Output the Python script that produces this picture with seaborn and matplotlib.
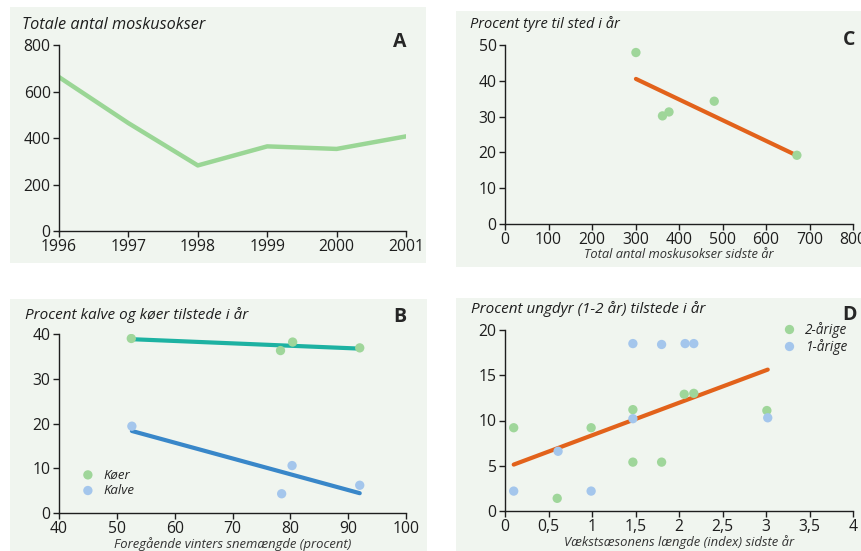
import pandas as pd
import matplotlib.pyplot as plt
import seaborn as sns
from matplotlib.patches import Rectangle

# Data
aar = [1996, 1997, 1998, 1999, 2000, 2001]
total_antal = [662, 464, 282, 364, 353, 407]

moskus_sidste_aar = [301, 362, 377, 481, 671]
pct_tyre = [47.9, 30.2, 31.3, 34.3, 19.2]

sne_koer = [52.5, 78.3, 80.4, 92.0]
pct_koer = [39.0, 36.3, 38.2, 36.9]
sne_kalve = [52.6, 78.5, 80.3, 92.0]
pct_kalve = [19.4, 4.3, 10.6, 6.2]

vaekst_2aar = [0.10, 0.60, 0.99, 1.47, 1.47, 1.80, 2.06, 2.17, 3.01]
pct_2aar = [9.2, 1.4, 9.2, 11.2, 5.4, 5.4, 12.9, 13.0, 11.1]
vaekst_1aar = [0.10, 0.61, 0.99, 1.47, 1.47, 1.80, 2.07, 2.17, 3.02]
pct_1aar = [2.2, 6.6, 2.2, 18.5, 10.2, 18.4, 18.5, 18.5, 10.3]

GROEN = '#9fd69a'
BLAA = '#a4c6ec'
ORANGE = '#e2621b'
TEAL = '#1db2a2'
BLAA_LINJE = '#3987c9'
BAGGRUND = '#f0f5ef'
TEKST = '#1e1e1e'

sns.set_style('ticks')
plt.rcParams['font.family'] = ['Open Sans', 'DejaVu Sans']
plt.rcParams['xtick.color'] = TEKST
plt.rcParams['ytick.color'] = TEKST
plt.rcParams['xtick.labelcolor'] = TEKST
plt.rcParams['ytick.labelcolor'] = TEKST

W, H = 861, 551
fig = plt.figure(figsize=(W / 100, H / 100), dpi=100)


def px(x0, y0, x1, y1):
    # pixel box (top-left origin) -> figure fraction rect
    return [x0 / W, 1 - y1 / H, (x1 - x0) / W, (y1 - y0) / H]


# lysegrønne baggrundsfelter
for box in [(10, 7, 426, 263), (456, 11, 861, 267), (10, 299, 427, 551), (456, 298, 861, 551)]:
    r = px(*box)
    fig.add_artist(Rectangle((r[0], r[1]), r[2], r[3], transform=fig.transFigure,
                             facecolor=BAGGRUND, edgecolor='none', zorder=-10))


def stil(ax):
    sns.despine(ax=ax)
    ax.set_facecolor('none')
    for s in ['left', 'bottom']:
        ax.spines[s].set_linewidth(1.0)
        ax.spines[s].set_color(TEKST)
    ax.tick_params(length=4, width=1.0, labelsize=11.3, pad=2)
    ax.set_xlabel('')
    ax.set_ylabel('')


# ---- A ----
axA = fig.add_axes(px(59, 45, 406, 231))
dfA = pd.DataFrame({'aar': aar, 'antal': total_antal})
sns.lineplot(data=dfA, x='aar', y='antal', ax=axA, color='#9ad695', linewidth=3.2)
axA.set_xlim(1996, 2001)
axA.set_ylim(0, 800)
axA.set_xticks(aar)
axA.set_yticks([0, 200, 400, 600, 800])
stil(axA)
fig.text(22 / W, 1 - 25 / H, 'Totale antal moskusokser', fontsize=11.7, style='italic',
         va='center', color=TEKST)
fig.text(400 / W, 1 - 42 / H, 'A', fontsize=14, fontweight='bold', ha='center', va='center')

# ---- C ----
axC = fig.add_axes(px(505, 45, 853, 224))
dfC = pd.DataFrame({'moskus': moskus_sidste_aar, 'tyre': pct_tyre})
sns.regplot(data=dfC, x='moskus', y='tyre', ax=axC, scatter=False, ci=None,
            color=ORANGE, line_kws={'linewidth': 3})
sns.scatterplot(data=dfC, x='moskus', y='tyre', ax=axC, color=GROEN, s=45,
                edgecolor='none', zorder=3)
axC.set_xlim(0, 800)
axC.set_ylim(0, 50)
axC.set_xticks(range(0, 801, 100))
axC.set_yticks(range(0, 51, 10))
stil(axC)
axC.set_xlabel('Total antal moskusokser sidste år', fontsize=9.3, style='italic',
               color='#333333', labelpad=0)
fig.text(470 / W, 1 - 24 / H, 'Procent tyre til sted i år', fontsize=10.5, style='italic',
         va='center', color=TEKST)
fig.text(849 / W, 1 - 40 / H, 'C', fontsize=14, fontweight='bold', ha='center', va='center')

# ---- B ----
axB = fig.add_axes(px(59, 334, 406, 513))
dfK = pd.DataFrame({'sne': sne_koer, 'pct': pct_koer})
dfKa = pd.DataFrame({'sne': sne_kalve, 'pct': pct_kalve})
sns.regplot(data=dfK, x='sne', y='pct', ax=axB, scatter=False, ci=None,
            color=TEAL, line_kws={'linewidth': 3})
sns.regplot(data=dfKa, x='sne', y='pct', ax=axB, scatter=False, ci=None,
            color=BLAA_LINJE, line_kws={'linewidth': 3})
sns.scatterplot(data=dfK, x='sne', y='pct', ax=axB, color=GROEN, s=45,
                edgecolor='none', zorder=3, label='Køer')
sns.scatterplot(data=dfKa, x='sne', y='pct', ax=axB, color=BLAA, s=45,
                edgecolor='none', zorder=3, label='Kalve')
axB.set_xlim(40, 100)
axB.set_ylim(0, 40)
axB.set_xticks(range(40, 101, 10))
axB.set_yticks(range(0, 41, 10))
stil(axB)
axB.set_xlabel('Foregående vinters snemængde (procent)', fontsize=9.4, style='italic',
               color='#333333', labelpad=0)
axB.legend(loc='lower left', bbox_to_anchor=(0.03, 0.06), frameon=False,
           handletextpad=0.2, labelspacing=0.2, borderaxespad=0,
           prop={'style': 'italic', 'size': 9.5})
fig.text(25 / W, 1 - 315 / H, 'Procent kalve og køer tilstede i år', fontsize=11,
         style='italic', va='center', color=TEKST)
fig.text(400 / W, 1 - 317 / H, 'B', fontsize=14, fontweight='bold', ha='center', va='center')

# ---- D ----
axD = fig.add_axes(px(505, 330, 853, 511))
df2 = pd.DataFrame({'vaekst': vaekst_2aar, 'pct': pct_2aar, 'gruppe': '2-årige'})
df1 = pd.DataFrame({'vaekst': vaekst_1aar, 'pct': pct_1aar, 'gruppe': '1-årige'})
dfD = pd.concat([df2, df1], ignore_index=True)
sns.regplot(data=dfD, x='vaekst', y='pct', ax=axD, scatter=False, ci=None,
            color=ORANGE, line_kws={'linewidth': 3})
sns.scatterplot(data=dfD, x='vaekst', y='pct', hue='gruppe', ax=axD,
                palette={'2-årige': GROEN, '1-årige': BLAA}, s=45,
                edgecolor='none', zorder=3)
axD.set_xlim(0, 4)
axD.set_ylim(0, 20)
axD.set_xticks([0, 0.5, 1, 1.5, 2, 2.5, 3, 3.5, 4])
axD.set_xticklabels(['0', '0,5', '1', '1,5', '2', '2,5', '3', '3,5', '4'])
axD.set_yticks(range(0, 21, 5))
stil(axD)
axD.set_xlabel('Vækstsæsonens længde (index) sidste år', fontsize=9.4, style='italic',
               color='#333333', labelpad=0)
axD.legend(loc='upper right', bbox_to_anchor=(1.0, 1.075), frameon=False,
           handletextpad=0.2, labelspacing=0.1, borderaxespad=0, title=None,
           prop={'style': 'italic', 'size': 9.8})
fig.text(471 / W, 1 - 309 / H, 'Procent ungdyr (1-2 år) tilstede i år', fontsize=11,
         style='italic', va='center', color=TEKST)
fig.text(850 / W, 1 - 315 / H, 'D', fontsize=14, fontweight='bold', ha='center', va='center')

fig.savefig('out.png', dpi=100, facecolor='white')
